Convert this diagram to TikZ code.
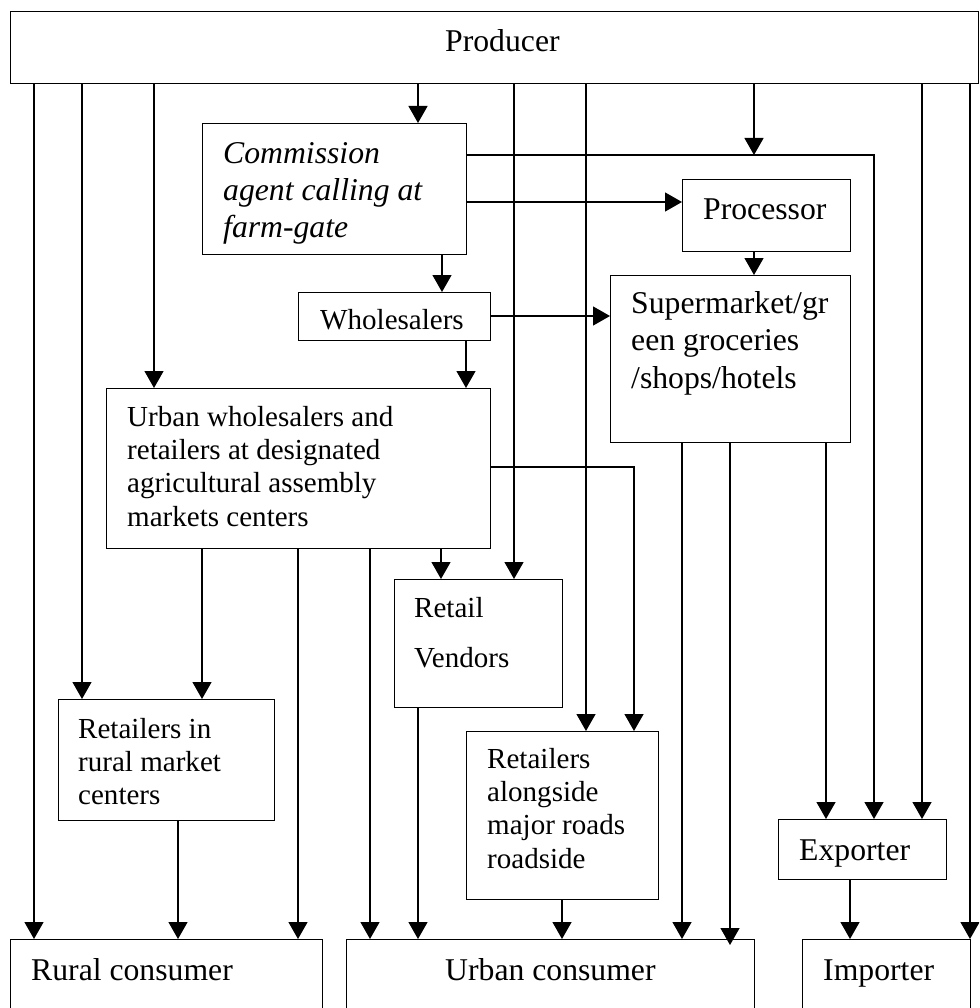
\documentclass[tikz,border=0pt]{standalone}
\usepackage{fontspec}
\setmainfont{Liberation Serif}
\usetikzlibrary{arrows.meta}
\newcommand{\twelve}{\fontsize{31.7}{36.8}\selectfont}
\newcommand{\eleven}{\fontsize{29.05}{33.4}\selectfont}
\begin{document}
\begin{tikzpicture}[x=1pt,y=-1pt,
  box/.style={draw, line width=1.3pt, inner sep=0pt, anchor=north west},
  txt/.style={inner sep=0pt, anchor=base west},
  arr/.style={line width=1.3pt, -{Triangle[length=17pt,width=19pt]}},
  ln/.style={line width=1.3pt}]
\useasboundingbox (0,0) rectangle (979,1008);
\clip (0,0) rectangle (979,1008);
% boxes
\node[box, minimum width=968pt, minimum height=72pt] (prod) at (10,11) {};
\node[box, minimum width=264pt, minimum height=131pt] (comm) at (202,123) {};
\node[box, minimum width=192pt, minimum height=48pt] (whole) at (298,292) {};
\node[box, minimum width=168pt, minimum height=72pt] (proc) at (682,179) {};
\node[box, minimum width=240pt, minimum height=167pt] (super) at (610,275) {};
\node[box, minimum width=384pt, minimum height=160pt] (urbw) at (106,388) {};
\node[box, minimum width=168pt, minimum height=128pt] (vend) at (394,579) {};
\node[box, minimum width=216pt, minimum height=121pt] (rrural) at (58,699) {};
\node[box, minimum width=192pt, minimum height=168pt] (road) at (466,731) {};
\node[box, minimum width=168pt, minimum height=60pt] (exp) at (778,819) {};
\node[box, minimum width=312pt, minimum height=100pt] (rural) at (10,939) {};
\node[box, minimum width=408pt, minimum height=100pt] (urban) at (346,939) {};
\node[box, minimum width=168pt, minimum height=100pt] (imp) at (802,939) {};
% texts
\node[txt] (tprod) at (445,52) {\twelve Producer};
\node[txt] (tcomm) at (223,164) {\twelve\itshape\begin{tabular}[t]{@{}l@{}}Commission\\agent calling at\\farm-gate\end{tabular}};
\node[txt] (twhole) at (320,329) {\eleven Wholesalers};
\node[txt] (tproc) at (703,220) {\twelve Processor};
\node[txt] (tsuper) at (631,313) {\fontsize{31.7}{37.5}\selectfont\begin{tabular}[t]{@{}l@{}}Supermarket/gr\\een groceries\\/shops/hotels\end{tabular}};
\node[txt] (turbw) at (127,426) {\eleven\begin{tabular}[t]{@{}l@{}}Urban wholesalers and\\retailers at designated\\agricultural assembly\\markets centers\end{tabular}};
\node[txt] (tvend) at (414,617) {\fontsize{29.05}{50}\selectfont\begin{tabular}[t]{@{}l@{}}Retail\\Vendors\end{tabular}};
\node[txt] (trrural) at (78,738) {\fontsize{29.05}{33}\selectfont\begin{tabular}[t]{@{}l@{}}Retailers in\\rural market\\centers\end{tabular}};
\node[txt] (troad) at (487,768) {\eleven\begin{tabular}[t]{@{}l@{}}Retailers\\alongside\\major roads\\roadside\end{tabular}};
\node[txt] (texp) at (799,860) {\twelve Exporter};
\node[txt] (trural) at (31,980) {\twelve Rural consumer};
\node[txt] (turban) at (445,980) {\twelve Urban consumer};
\node[txt] (timp) at (823,980) {\twelve Importer};
% connectors from producer
\draw[arr] (34,0 |- prod.south) -- (34,0 |- rural.north);
\draw[arr] (82,0 |- prod.south) -- (82,0 |- rrural.north);
\draw[arr] (154,0 |- prod.south) -- (154,0 |- urbw.north);
\draw[arr] (418,0 |- prod.south) -- (418,0 |- comm.north);
\draw[arr] (514,0 |- prod.south) -- (514,0 |- vend.north);
\draw[arr] (586,0 |- prod.south) -- (586,0 |- road.north);
\coordinate (j1) at (754,155);
\draw[arr] (754,0 |- prod.south) -- (j1);
\draw[arr] (922,0 |- prod.south) -- (922,0 |- exp.north);
\draw[arr] (970,0 |- prod.south) -- (970,0 |- imp.north);
% commission agent
\draw[arr] (comm.east |- 0,155) -| (874,0 |- exp.north);
\draw[arr] (comm.east |- 0,202) -- (proc.west |- 0,202);
\draw[arr] (442,0 |- comm.south) -- (442,0 |- whole.north);
% wholesalers
\draw[arr] (466,0 |- whole.south) -- (466,0 |- urbw.north);
\draw[arr] (whole.east |- 0,316) -- (super.west |- 0,316);
% processor
\draw[arr] (754,0 |- proc.south) -- (754,0 |- super.north);
% urban wholesalers
\draw[arr] (202,0 |- urbw.south) -- (202,0 |- rrural.north);
\draw[arr] (298,0 |- urbw.south) -- (298,0 |- rural.north);
\draw[arr] (370,0 |- urbw.south) -- (370,0 |- urban.north);
\draw[arr] (441,0 |- urbw.south) -- (441,0 |- vend.north);
\draw[arr] (urbw.east |- 0,467) -| (634,0 |- road.north);
% others
\draw[arr] (418,0 |- vend.south) -- (418,0 |- urban.north);
\draw[arr] (178,0 |- rrural.south) -- (178,0 |- rural.north);
\draw[arr] (562,0 |- road.south) -- (562,0 |- urban.north);
\draw[arr] (682,0 |- super.south) -- (682,0 |- urban.north);
\draw[arr, shorten >=-6pt] (730,0 |- super.south) -- (730,0 |- urban.north);
\draw[arr] (826,0 |- super.south) -- (826,0 |- exp.north);
\draw[arr] (850,0 |- exp.south) -- (850,0 |- imp.north);
\end{tikzpicture}
\end{document}
